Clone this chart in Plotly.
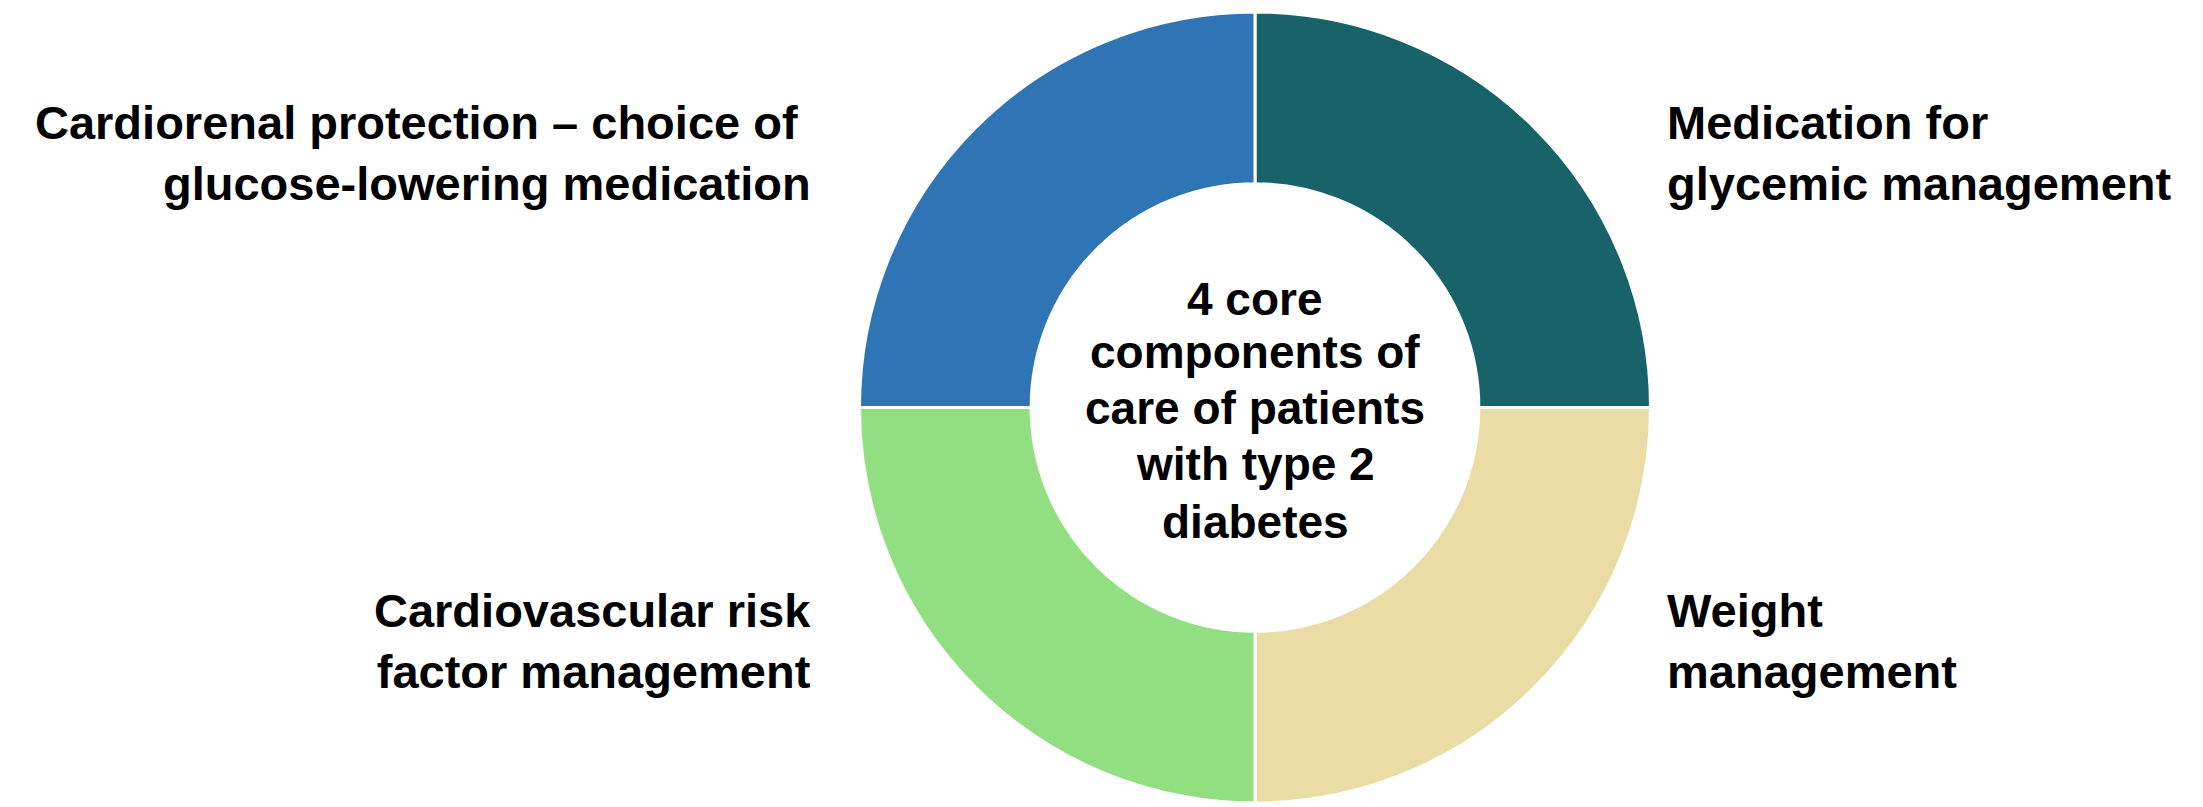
import plotly.graph_objects as go

labels = ["Medication for<br>glycemic management", "Weight<br>management",
          "Cardiovascular risk<br>factor management",
          "Cardiorenal protection – choice of&nbsp;<br>glucose-lowering medication"]
values = [1, 1, 1, 1]
colors = ["#186369", "#E9DDA5", "#92DF82", "#2F75B5"]
center_lines = ["4 core", "components of", "care of patients", "with type 2", "diabetes"]

W, H = 2203, 807
OFF = 8  # page body margin offset
cx, cy_top, cy_bot = 1255 - OFF, 12 - OFF, 803 - OFF

fig = go.Figure(go.Pie(
    labels=labels, values=values, sort=False, direction="clockwise", rotation=0,
    hole=0.566, textinfo="none", hoverinfo="label",
    marker=dict(colors=colors, line=dict(color="white", width=3)),
    domain=dict(x=[cx / W - 0.2, cx / W + 0.2], y=[1 - cy_bot / H, 1 - cy_top / H]),
    showlegend=False,
))

font = dict(family="Liberation Sans, Arial, sans-serif", size=47, color="black")
pos = [(1665, 153, "left"), (1665, 641, "left"), (813, 641, "right"), (813, 153, "right")]
for lab, (x, y, side) in zip(labels, pos):
    fig.add_annotation(x=(x - OFF) / W, y=1 - (y - OFF) / H, xref="paper", yref="paper",
                       text="<b>" + lab + "</b>", showarrow=False, xanchor=side,
                       yanchor="middle", align=side, font=font)

cfont = dict(family="Liberation Sans, Arial, sans-serif", size=46, color="black")
line_y = [299, 352, 408, 464, 522]
for txt, y in zip(center_lines, line_y):
    fig.add_annotation(x=cx / W, y=1 - (y - OFF) / H, xref="paper", yref="paper",
                       text="<b>" + txt + "</b>", showarrow=False, xanchor="center",
                       yanchor="middle", align="center", font=cfont)

fig.update_layout(width=W, height=H, margin=dict(l=0, r=0, t=0, b=0),
                  paper_bgcolor="white", plot_bgcolor="white")
fig.write_html("out.html")
